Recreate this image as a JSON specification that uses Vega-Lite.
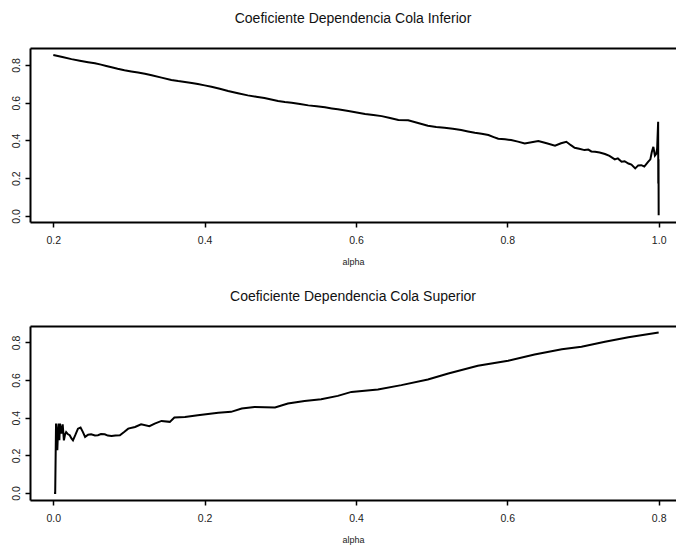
{
  "$schema": "https://vega.github.io/schema/vega-lite/v6.json",
  "padding": {"left": 10, "top": 12, "right": 0, "bottom": 0},
  "background": "white",
  "spacing": 23,
  "config": {
    "view": {"stroke": null},
    "font": "Liberation Sans",
    "axis": {
      "grid": false,
      "domainColor": "black",
      "domainWidth": 2,
      "tickColor": "black",
      "tickWidth": 1.5,
      "tickSize": 5,
      "labelFont": "Liberation Sans",
      "labelFontSize": 10.5,
      "labelColor": "#222",
      "titleFont": "Liberation Sans",
      "titleFontSize": 9,
      "titleFontWeight": "normal",
      "titleColor": "#222"
    },
    "title": {"font": "Liberation Sans", "fontSize": 14, "fontWeight": "normal", "color": "#111"}
  },
  "datasets": {
    "lower": [
      {"alpha": 0.200, "coef": 0.853}, {"alpha": 0.212, "coef": 0.842}, {"alpha": 0.224, "coef": 0.831},
      {"alpha": 0.235, "coef": 0.823}, {"alpha": 0.246, "coef": 0.815}, {"alpha": 0.255, "coef": 0.809},
      {"alpha": 0.263, "coef": 0.802}, {"alpha": 0.270, "coef": 0.795}, {"alpha": 0.277, "coef": 0.788},
      {"alpha": 0.285, "coef": 0.780}, {"alpha": 0.294, "coef": 0.772}, {"alpha": 0.303, "coef": 0.766},
      {"alpha": 0.312, "coef": 0.760}, {"alpha": 0.321, "coef": 0.753}, {"alpha": 0.330, "coef": 0.746},
      {"alpha": 0.343, "coef": 0.733}, {"alpha": 0.356, "coef": 0.721}, {"alpha": 0.365, "coef": 0.715},
      {"alpha": 0.374, "coef": 0.710}, {"alpha": 0.383, "coef": 0.705}, {"alpha": 0.391, "coef": 0.699},
      {"alpha": 0.400, "coef": 0.692}, {"alpha": 0.409, "coef": 0.685}, {"alpha": 0.420, "coef": 0.674},
      {"alpha": 0.431, "coef": 0.662}, {"alpha": 0.444, "coef": 0.650}, {"alpha": 0.457, "coef": 0.639},
      {"alpha": 0.468, "coef": 0.632}, {"alpha": 0.479, "coef": 0.625}, {"alpha": 0.488, "coef": 0.617},
      {"alpha": 0.497, "coef": 0.609}, {"alpha": 0.506, "coef": 0.604}, {"alpha": 0.515, "coef": 0.600},
      {"alpha": 0.526, "coef": 0.593}, {"alpha": 0.537, "coef": 0.586}, {"alpha": 0.548, "coef": 0.581},
      {"alpha": 0.559, "coef": 0.576}, {"alpha": 0.568, "coef": 0.570}, {"alpha": 0.576, "coef": 0.565},
      {"alpha": 0.590, "coef": 0.556}, {"alpha": 0.601, "coef": 0.548}, {"alpha": 0.612, "coef": 0.540},
      {"alpha": 0.623, "coef": 0.535}, {"alpha": 0.634, "coef": 0.529}, {"alpha": 0.645, "coef": 0.519},
      {"alpha": 0.656, "coef": 0.508}, {"alpha": 0.669, "coef": 0.507}, {"alpha": 0.682, "coef": 0.493},
      {"alpha": 0.695, "coef": 0.478}, {"alpha": 0.706, "coef": 0.472}, {"alpha": 0.717, "coef": 0.467},
      {"alpha": 0.728, "coef": 0.462}, {"alpha": 0.739, "coef": 0.455}, {"alpha": 0.748, "coef": 0.448},
      {"alpha": 0.757, "coef": 0.441}, {"alpha": 0.766, "coef": 0.436}, {"alpha": 0.775, "coef": 0.429},
      {"alpha": 0.782, "coef": 0.418}, {"alpha": 0.788, "coef": 0.409}, {"alpha": 0.797, "coef": 0.406},
      {"alpha": 0.805, "coef": 0.402}, {"alpha": 0.814, "coef": 0.394}, {"alpha": 0.823, "coef": 0.384},
      {"alpha": 0.832, "coef": 0.391}, {"alpha": 0.841, "coef": 0.397}, {"alpha": 0.852, "coef": 0.385},
      {"alpha": 0.863, "coef": 0.372}, {"alpha": 0.871, "coef": 0.385}, {"alpha": 0.878, "coef": 0.393},
      {"alpha": 0.884, "coef": 0.375}, {"alpha": 0.889, "coef": 0.361}, {"alpha": 0.895, "coef": 0.356},
      {"alpha": 0.902, "coef": 0.349}, {"alpha": 0.907, "coef": 0.352}, {"alpha": 0.911, "coef": 0.342},
      {"alpha": 0.916, "coef": 0.340}, {"alpha": 0.922, "coef": 0.336}, {"alpha": 0.929, "coef": 0.328},
      {"alpha": 0.935, "coef": 0.318}, {"alpha": 0.942, "coef": 0.300}, {"alpha": 0.946, "coef": 0.305},
      {"alpha": 0.951, "coef": 0.287}, {"alpha": 0.955, "coef": 0.290}, {"alpha": 0.960, "coef": 0.278},
      {"alpha": 0.964, "coef": 0.272}, {"alpha": 0.969, "coef": 0.252}, {"alpha": 0.973, "coef": 0.268},
      {"alpha": 0.977, "coef": 0.269}, {"alpha": 0.981, "coef": 0.262}, {"alpha": 0.986, "coef": 0.287},
      {"alpha": 0.989, "coef": 0.300}, {"alpha": 0.991, "coef": 0.340}, {"alpha": 0.993, "coef": 0.366},
      {"alpha": 0.995, "coef": 0.320}, {"alpha": 0.997, "coef": 0.331}, {"alpha": 0.998, "coef": 0.360},
      {"alpha": 0.9993, "coef": 0.499}, {"alpha": 0.9995, "coef": 0.172}, {"alpha": 0.9998, "coef": 0.300},
      {"alpha": 1.000, "coef": 0.004}
    ],
    "upper": [
      {"alpha": 0.001, "coef": 0.000}, {"alpha": 0.0025, "coef": 0.000}, {"alpha": 0.0036, "coef": 0.369},
      {"alpha": 0.0045, "coef": 0.300}, {"alpha": 0.0053, "coef": 0.227}, {"alpha": 0.0062, "coef": 0.330},
      {"alpha": 0.0070, "coef": 0.369}, {"alpha": 0.0080, "coef": 0.280}, {"alpha": 0.0089, "coef": 0.369},
      {"alpha": 0.0100, "coef": 0.330}, {"alpha": 0.0106, "coef": 0.316}, {"alpha": 0.0124, "coef": 0.365},
      {"alpha": 0.0140, "coef": 0.280}, {"alpha": 0.0155, "coef": 0.310}, {"alpha": 0.0170, "coef": 0.324},
      {"alpha": 0.0195, "coef": 0.312}, {"alpha": 0.0217, "coef": 0.307}, {"alpha": 0.0240, "coef": 0.290},
      {"alpha": 0.0260, "coef": 0.280}, {"alpha": 0.0290, "coef": 0.307}, {"alpha": 0.0326, "coef": 0.342},
      {"alpha": 0.0360, "coef": 0.348}, {"alpha": 0.0390, "coef": 0.325}, {"alpha": 0.0420, "coef": 0.298},
      {"alpha": 0.0460, "coef": 0.310}, {"alpha": 0.0500, "coef": 0.312}, {"alpha": 0.0550, "coef": 0.306},
      {"alpha": 0.0590, "coef": 0.307}, {"alpha": 0.0630, "coef": 0.313}, {"alpha": 0.0680, "coef": 0.312},
      {"alpha": 0.0720, "coef": 0.305}, {"alpha": 0.0770, "coef": 0.303}, {"alpha": 0.0820, "coef": 0.306},
      {"alpha": 0.0880, "coef": 0.307}, {"alpha": 0.0940, "coef": 0.325}, {"alpha": 0.0990, "coef": 0.342},
      {"alpha": 0.1080, "coef": 0.351}, {"alpha": 0.1160, "coef": 0.365}, {"alpha": 0.1270, "coef": 0.355},
      {"alpha": 0.1340, "coef": 0.369}, {"alpha": 0.1430, "coef": 0.383}, {"alpha": 0.1540, "coef": 0.378},
      {"alpha": 0.1600, "coef": 0.401}, {"alpha": 0.1740, "coef": 0.404}, {"alpha": 0.1910, "coef": 0.413},
      {"alpha": 0.2180, "coef": 0.426}, {"alpha": 0.2350, "coef": 0.431}, {"alpha": 0.2490, "coef": 0.449},
      {"alpha": 0.2660, "coef": 0.457}, {"alpha": 0.2930, "coef": 0.454}, {"alpha": 0.3100, "coef": 0.475},
      {"alpha": 0.3320, "coef": 0.489}, {"alpha": 0.3540, "coef": 0.498}, {"alpha": 0.3760, "coef": 0.516},
      {"alpha": 0.3940, "coef": 0.537}, {"alpha": 0.4290, "coef": 0.550}, {"alpha": 0.4600, "coef": 0.573},
      {"alpha": 0.4950, "coef": 0.603}, {"alpha": 0.5220, "coef": 0.635}, {"alpha": 0.5610, "coef": 0.676},
      {"alpha": 0.6010, "coef": 0.702}, {"alpha": 0.6360, "coef": 0.736}, {"alpha": 0.6720, "coef": 0.763},
      {"alpha": 0.6980, "coef": 0.777}, {"alpha": 0.7290, "coef": 0.803}, {"alpha": 0.7600, "coef": 0.827},
      {"alpha": 0.8000, "coef": 0.853}
    ]
  },
  "vconcat": [
    {
      "title": {"text": "Coeficiente Dependencia Cola Inferior", "offset": 22},
      "width": 646,
      "height": 174,
      "data": {"name": "lower"},
      "layer": [
        {
          "mark": {"type": "line", "color": "black", "strokeWidth": 2},
          "encoding": {
            "x": {"field": "alpha", "type": "quantitative",
                  "scale": {"domain": [0.1692, 1.0229], "nice": false, "zero": false},
                  "axis": {"values": [0.2, 0.4, 0.6, 0.8, 1.0], "format": ".1f", "title": "alpha", "labelPadding": 8, "titlePadding": 12}},
            "y": {"field": "coef", "type": "quantitative",
                  "scale": {"domain": [-0.032, 0.890], "nice": false, "zero": false},
                  "axis": {"values": [0, 0.2, 0.4, 0.6, 0.8], "format": ".1f", "title": null, "labelAngle": 270, "labelAlign": "center", "labelBaseline": "bottom", "labelPadding": 4}}
          }
        },
        {
          "mark": {"type": "line", "strokeOpacity": 0},
          "encoding": {
            "x": {"field": "alpha", "type": "quantitative",
                  "scale": {"domain": [0.1692, 1.0229], "nice": false, "zero": false},
                  "axis": {"orient": "top", "labels": false, "ticks": false, "domain": true, "title": null}},
            "y": {"field": "coef", "type": "quantitative",
                  "scale": {"domain": [-0.032, 0.890], "nice": false, "zero": false},
                  "axis": {"values": [0, 0.2, 0.4, 0.6, 0.8], "format": ".1f", "title": null, "labelAngle": 270, "labelAlign": "center", "labelBaseline": "bottom", "labelPadding": 4}}
          }
        }
      ],
      "resolve": {"axis": {"x": "independent"}}
    },
    {
      "title": {"text": "Coeficiente Dependencia Cola Superior", "offset": 22},
      "width": 646,
      "height": 174,
      "data": {"name": "upper"},
      "layer": [
        {
          "mark": {"type": "line", "color": "black", "strokeWidth": 2},
          "encoding": {
            "x": {"field": "alpha", "type": "quantitative",
                  "scale": {"domain": [-0.0308, 0.8229], "nice": false, "zero": false},
                  "axis": {"values": [0, 0.2, 0.4, 0.6, 0.8], "format": ".1f", "title": "alpha", "labelPadding": 8, "titlePadding": 12}},
            "y": {"field": "coef", "type": "quantitative",
                  "scale": {"domain": [-0.037, 0.887], "nice": false, "zero": false},
                  "axis": {"values": [0, 0.2, 0.4, 0.6, 0.8], "format": ".1f", "title": null, "labelAngle": 270, "labelAlign": "center", "labelBaseline": "bottom", "labelPadding": 4}}
          }
        },
        {
          "mark": {"type": "line", "strokeOpacity": 0},
          "encoding": {
            "x": {"field": "alpha", "type": "quantitative",
                  "scale": {"domain": [-0.0308, 0.8229], "nice": false, "zero": false},
                  "axis": {"orient": "top", "labels": false, "ticks": false, "domain": true, "title": null}},
            "y": {"field": "coef", "type": "quantitative",
                  "scale": {"domain": [-0.037, 0.887], "nice": false, "zero": false},
                  "axis": {"values": [0, 0.2, 0.4, 0.6, 0.8], "format": ".1f", "title": null, "labelAngle": 270, "labelAlign": "center", "labelBaseline": "bottom", "labelPadding": 4}}
          }
        }
      ],
      "resolve": {"axis": {"x": "independent"}}
    }
  ]
}
